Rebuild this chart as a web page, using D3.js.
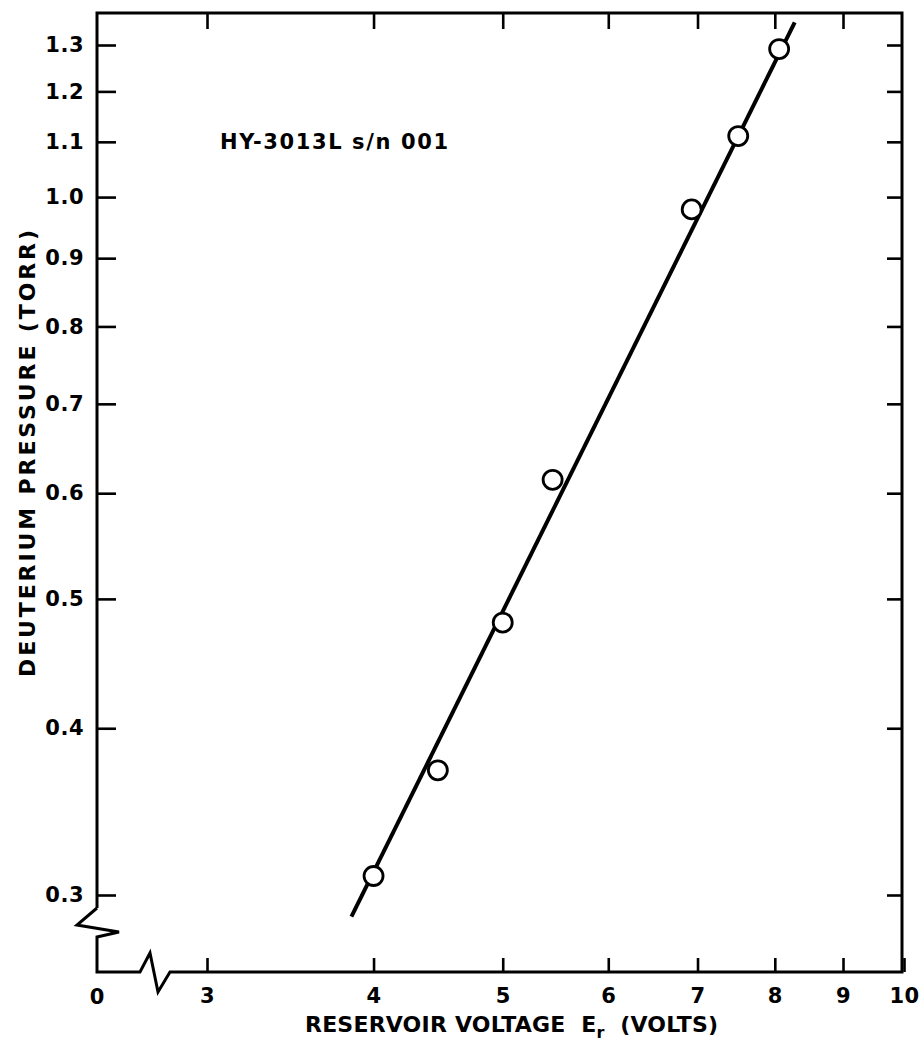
<!DOCTYPE html>
<html>
<head>
<meta charset="utf-8">
<script src="https://cdn.jsdelivr.net/npm/d3@7"></script>
<style>
  body { margin: 0; background: #fff; }
</style>
</head>
<body>
<div class="chart"></div>
<script>
// Data (log-log axes)
const voltage = [4.0, 4.47, 5.0, 5.45, 6.93, 7.51, 8.06];
const pressure = [0.31, 0.372, 0.48, 0.614, 0.979, 1.111, 1.291];
const fitVoltage = [3.85, 8.28];
const fitPressure = [0.289, 1.352];
const xTicks = [3, 4, 5, 6, 7, 8, 9, 10];
const yTicks = [0.3, 0.4, 0.5, 0.6, 0.7, 0.8, 0.9, 1.0, 1.1, 1.2, 1.3];

const width = 923;
const height = 1047;
const frame = { left: 97, right: 902, top: 13, bottom: 972 };
const font = "'DejaVu Sans', Arial, sans-serif";

const svg = d3.select(".chart")
    .append("svg")
    .attr("width", width)
    .attr("height", height);

// Scales
const x = d3.scaleLog().domain([3, 10]).range([207, 904]);
const y = d3.scaleLog().domain([0.3, 1.3]).range([895, 45]);

// Frame with axis breaks
svg.append("path")
    .attr("d", `M${frame.left},908 L${frame.left},${frame.top} L${frame.right},${frame.top}
        L${frame.right},${frame.bottom} L170,${frame.bottom} L158,992 L150,953 L140,${frame.bottom}
        L${frame.left},${frame.bottom} L${frame.left},937 L119,932 L77,925 L${frame.left},908`)
    .attr("fill", "none")
    .attr("stroke", "#000")
    .attr("stroke-width", 3)
    .attr("stroke-linejoin", "miter");

// Helper to style axis groups
function styleAxis(g) {
    g.select(".domain").remove();
    g.selectAll(".tick line").attr("stroke", "#000").attr("stroke-width", 2.6);
    g.selectAll("text")
        .attr("fill", "#000")
        .style("font-family", font)
        .style("font-weight", "bold")
        .style("font-size", "21px")
        .style("letter-spacing", "0.5px");
}

// Left axis
svg.append("g")
    .attr("transform", `translate(${frame.left},0)`)
    .call(d3.axisLeft(y).tickValues(yTicks).tickSizeInner(-19).tickSizeOuter(0)
        .tickPadding(13).tickFormat(d3.format(".1f")))
    .call(styleAxis);

// Right axis (ticks only)
svg.append("g")
    .attr("transform", `translate(${frame.right},0)`)
    .call(d3.axisRight(y).tickValues(yTicks).tickSizeInner(-15).tickSizeOuter(0).tickFormat(""))
    .call(styleAxis);

// Bottom axis
svg.append("g")
    .attr("transform", `translate(0,${frame.bottom})`)
    .call(d3.axisBottom(x).tickValues(xTicks).tickSizeInner(-14).tickSizeOuter(0)
        .tickPadding(16).tickFormat(d3.format("d")))
    .call(styleAxis);

// Top axis (ticks only)
svg.append("g")
    .attr("transform", `translate(0,${frame.top})`)
    .call(d3.axisTop(x).tickValues(xTicks.slice(0, -1)).tickSizeInner(-16).tickSizeOuter(0).tickFormat(""))
    .call(styleAxis);

// "0" at the broken origin
svg.append("text")
    .attr("x", frame.left)
    .attr("y", 1004)
    .attr("text-anchor", "middle")
    .style("font-family", font)
    .style("font-weight", "bold")
    .style("font-size", "21px")
    .text("0");

// Fitted line
const line = d3.line()
    .x(d => x(d[0]))
    .y(d => y(d[1]));

svg.append("path")
    .datum(d3.zip(fitVoltage, fitPressure))
    .attr("d", line)
    .attr("fill", "none")
    .attr("stroke", "#000")
    .attr("stroke-width", 4);

// Data points
svg.append("g")
    .selectAll("circle")
    .data(d3.zip(voltage, pressure))
    .join("circle")
    .attr("cx", d => x(d[0]))
    .attr("cy", d => y(d[1]))
    .attr("r", 9.5)
    .attr("fill", "#fff")
    .attr("stroke", "#000")
    .attr("stroke-width", 2.8);

// Annotation
svg.append("text")
    .attr("x", 220)
    .attr("y", 149)
    .attr("textLength", 228)
    .attr("lengthAdjust", "spacing")
    .style("font-family", font)
    .style("font-weight", "bold")
    .style("font-size", "21px")
    .text("HY-3013L s/n 001");

// Axis titles
const xTitle = svg.append("text")
    .attr("x", 305)
    .attr("y", 1032)
    .style("font-family", font)
    .style("font-weight", "bold")
    .style("font-size", "22px")
    .style("letter-spacing", "0.2px")
    .style("white-space", "pre");
xTitle.append("tspan").text("RESERVOIR VOLTAGE  E");
xTitle.append("tspan").attr("dy", 6).style("font-size", "16px").text("r");
xTitle.append("tspan").attr("dy", -6).text("  (VOLTS)");

svg.append("text")
    .attr("transform", "translate(35,677) rotate(-90)")
    .attr("textLength", 447)
    .attr("lengthAdjust", "spacing")
    .style("font-family", font)
    .style("font-weight", "bold")
    .style("font-size", "22px")
    .text("DEUTERIUM PRESSURE (TORR)");
</script>
</body>
</html>
